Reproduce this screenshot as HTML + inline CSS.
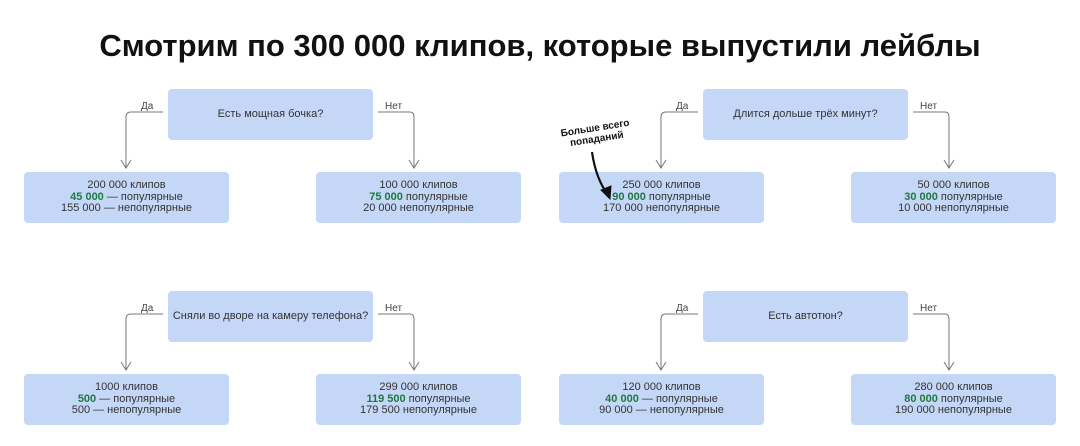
<!DOCTYPE html>
<html><head><meta charset="utf-8"><style>
body{margin:0;width:1080px;height:446px;background:#fff;position:relative;overflow:hidden;font-family:"Liberation Sans","DejaVu Sans",sans-serif;color:#333}
.t{position:absolute;left:0;width:1080px;top:28px;text-align:center;font-weight:bold;font-size:31px;color:#111}
.b{position:absolute;background:#c5d7f7;border-radius:4px;display:flex;align-items:center;justify-content:center;text-align:center;font-size:11px;line-height:11.5px;color:#333}
.q{width:205px;height:51px}
.r{width:205px;height:51px}
.g{color:#1d7a3c;font-weight:bold}
.l{position:absolute;font-size:10px;color:#444}
svg{position:absolute;left:0;top:0}
</style></head><body>
<div class="t">Смотрим по 300 000 клипов, которые выпустили лейблы</div>
<svg width="1080" height="446" fill="none" stroke="#777" stroke-width="1">
<g id="c">
<path d="M163 112 H131 Q126 112 126 117 V167"/><path d="M121 160 L126 168 L131 160"/>
<path d="M378 112 H410 Q414 112 414 117 V167"/><path d="M409 160 L414 168 L419 160"/>
</g>
<use href="#c" x="0" y="202"/>
<use href="#c" x="535" y="0"/>
<use href="#c" x="535" y="202"/>
</svg>
<div class="l" style="left:141px;top:101px">Да</div><div class="l" style="left:385px;top:101px">Нет</div>
<div class="l" style="left:141px;top:303px">Да</div><div class="l" style="left:385px;top:303px">Нет</div>
<div class="l" style="left:676px;top:101px">Да</div><div class="l" style="left:920px;top:101px">Нет</div>
<div class="l" style="left:676px;top:303px">Да</div><div class="l" style="left:920px;top:303px">Нет</div>

<div class="b q" style="left:168px;top:89px">Есть мощная бочка?</div>
<div class="b r" style="left:24px;top:172px"><div>200 000 клипов<br><span class="g">45 000</span> — популярные<br>155 000 — непопулярные</div></div>
<div class="b r" style="left:316px;top:172px"><div>100 000 клипов<br><span class="g">75 000</span> популярные<br>20 000 непопулярные</div></div>

<div class="b q" style="left:703px;top:89px">Длится дольше трёх минут?</div>
<div class="b r" style="left:559px;top:172px"><div>250 000 клипов<br><span class="g">90 000</span> популярные<br>170 000 непопулярные</div></div>
<div class="b r" style="left:851px;top:172px"><div>50 000 клипов<br><span class="g">30 000</span> популярные<br>10 000 непопулярные</div></div>

<div class="b q" style="left:168px;top:291px">Сняли во дворе на камеру телефона?</div>
<div class="b r" style="left:24px;top:374px"><div>1000 клипов<br><span class="g">500</span> — популярные<br>500 — непопулярные</div></div>
<div class="b r" style="left:316px;top:374px"><div>299 000 клипов<br><span class="g">119 500</span> популярные<br>179 500 непопулярные</div></div>

<div class="b q" style="left:703px;top:291px">Есть автотюн?</div>
<div class="b r" style="left:559px;top:374px"><div>120 000 клипов<br><span class="g">40 000</span> — популярные<br>90 000 — непопулярные</div></div>
<div class="b r" style="left:851px;top:374px"><div>280 000 клипов<br><span class="g">80 000</span> популярные<br>190 000 непопулярные</div></div>

<svg width="1080" height="446" fill="none">
<path d="M592 152 Q596 180 609 196" stroke="#111" stroke-width="2.2"/>
<path d="M601 190 L610 199 L611 186 Z" stroke="#111" stroke-width="1" fill="#111"/>
</svg>
<div style="position:absolute;left:551px;top:123px;width:90px;text-align:center;font-size:10px;line-height:11px;font-weight:bold;color:#111;transform:rotate(-9deg)">Больше всего<br>попаданий</div>
</body></html>
